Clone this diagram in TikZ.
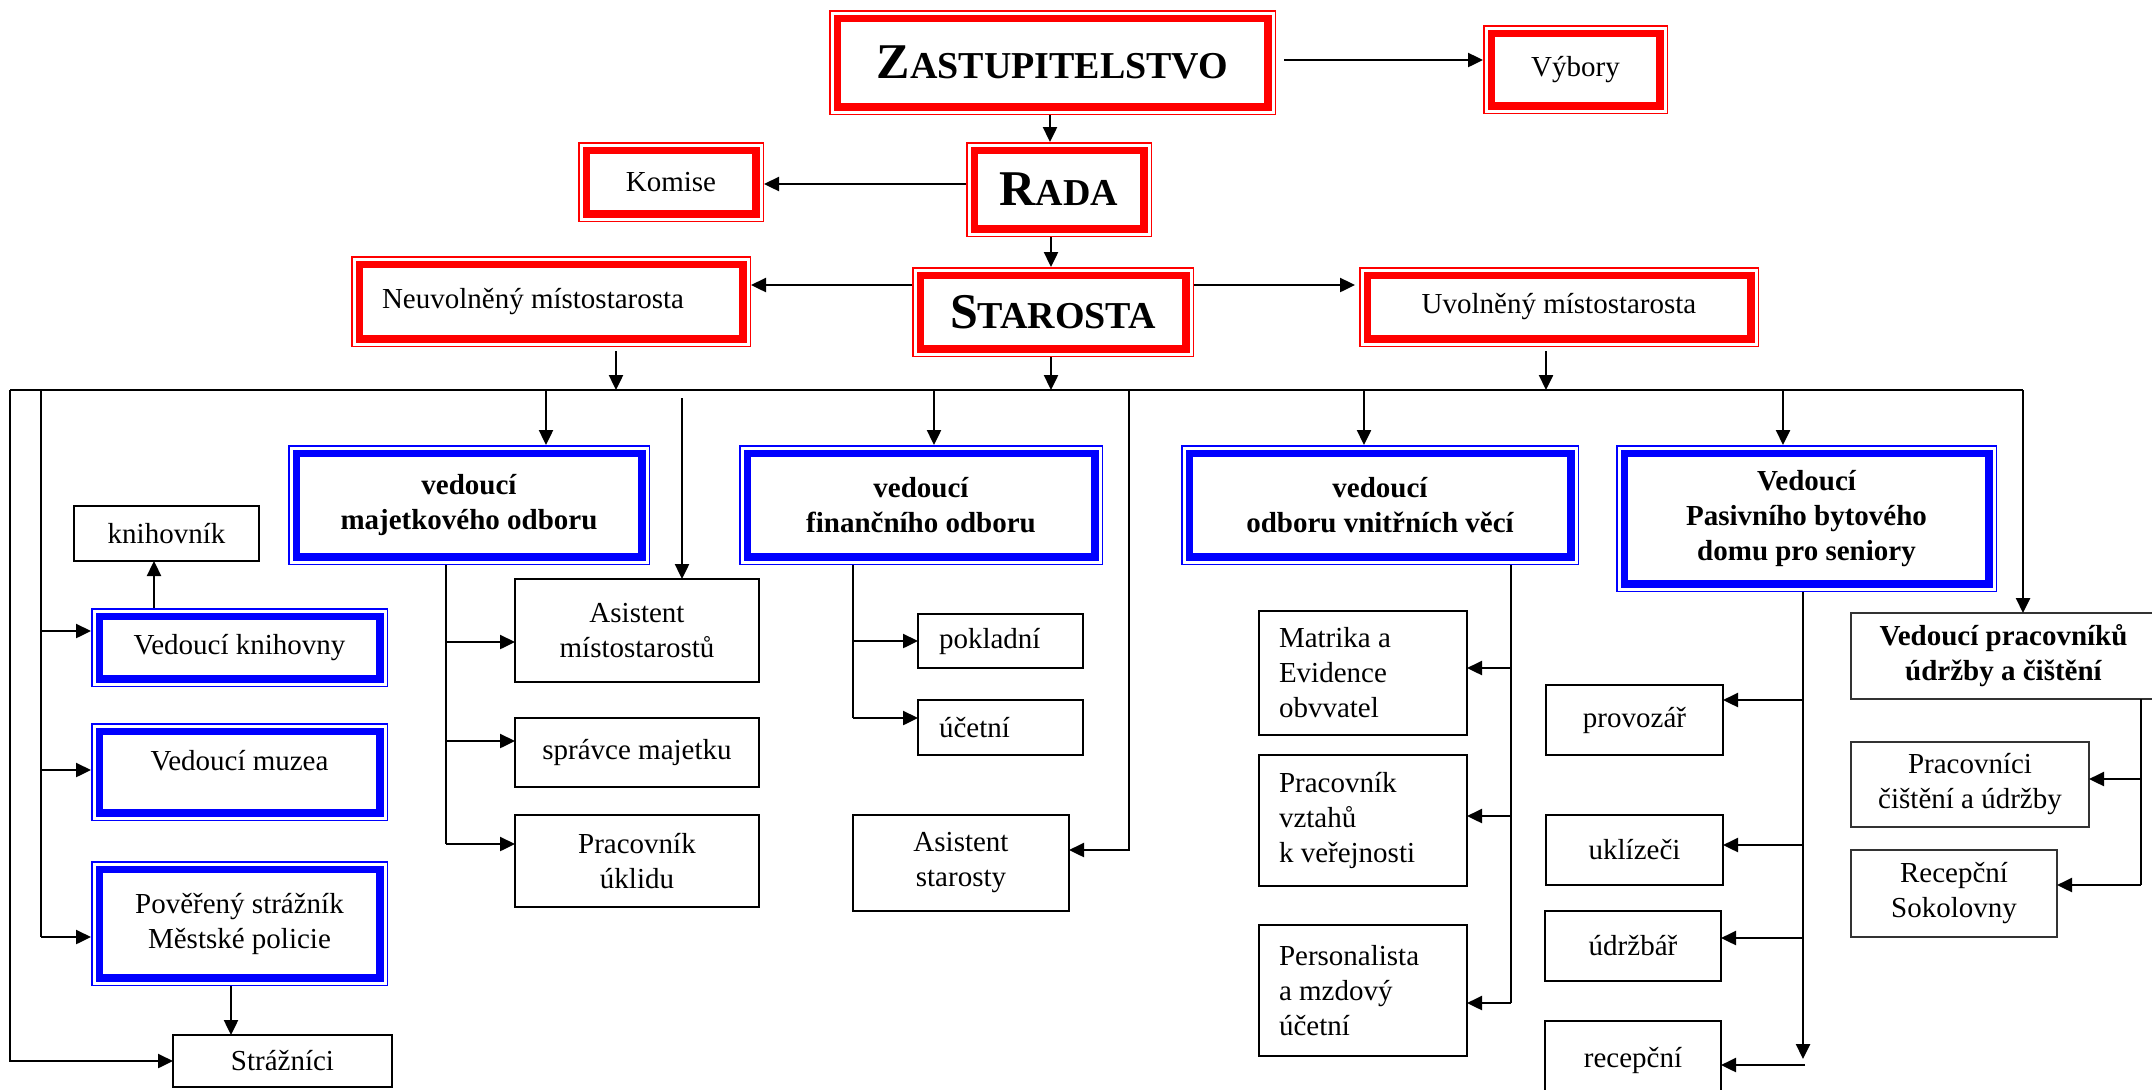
\documentclass[tikz,border=0pt]{standalone}
\usepackage{fontspec}
\setmainfont{Liberation Serif}
\usetikzlibrary{arrows.meta}
\definecolor{fr}{RGB}{255,0,0}
\definecolor{fb}{RGB}{0,0,255}
\newcommand\fsz{\fontsize{14.5pt}{17.5pt}\selectfont}
\newcommand\bigsc[2]{{\fontsize{25pt}{25pt}\selectfont #1}{\fontsize{19pt}{19pt}\selectfont #2}}
\newcommand\mkbox[7]{%
  \pgfmathsetmacro\bw{(#5-#3)*0.5}\pgfmathsetmacro\bh{(#6-#4)*0.5}%
  \node[#1, minimum width=\bw pt, minimum height=\bh pt] (#2) at ({(#3+#5)/2},{(#4+#6)/2}) {#7};}
\tikzset{
  dbl/.style={draw=none, inner sep=0pt, outer sep=0pt, align=center, font=\fsz},
  plain/.style={draw, line width=1pt, inner sep=0pt, outer sep=0pt, align=center, font=\fsz},
  thinbox/.style={draw=black!80, line width=0.6pt, inner sep=0pt, outer sep=0pt, align=center, font=\fsz},
  bf/.style={font=\fsz\bfseries},
  ln/.style={line width=1pt},
  arr/.style={line width=1.2pt, -{Triangle[length=7.5pt,width=7pt]}},
}
\begin{document}
\begin{tikzpicture}[x=0.5pt,y=-0.5pt]
\useasboundingbox (0,0) rectangle (2152,1089);
\fill[white] (0,0) rectangle (2152,1089);
\clip (0,0) rectangle (2152,1089);
% red boxes
\mkbox{dbl,bf}{zast}{829}{10}{1276}{115}{\bigsc{Z}{ASTUPITELSTVO}}
\mkbox{dbl}{vyb}{1483}{25}{1668}{114}{Výbory}
\mkbox{dbl,bf}{rada}{966}{142}{1152}{237}{\bigsc{R}{ADA}}
\mkbox{dbl}{komise}{578}{142}{764}{222}{Komise}
\mkbox{dbl,bf}{starosta}{912}{267}{1194}{357}{\bigsc{S}{TAROSTA}}
\mkbox{dbl,align=flush left,text width=169pt,inner xsep=15.5pt}{neuv}{351}{256}{751}{347}{Neuvolněný místostarosta}
\mkbox{dbl}{uvol}{1359}{267}{1759}{347}{Uvolněný místostarosta}
% blue boxes
\mkbox{dbl,bf}{maj}{288}{445}{650}{565}{vedoucí\\majetkového odboru}
\mkbox{dbl,bf}{fin}{739}{445}{1103}{565}{vedoucí\\finančního odboru}
\mkbox{dbl,bf}{vnit}{1181}{445}{1579}{565}{vedoucí\\odboru vnitřních věcí}
\mkbox{dbl,bf}{pas}{1616}{445}{1997}{592}{Vedoucí\\Pasivního bytového\\domu pro seniory}
\mkbox{dbl}{vknih}{91}{608}{388}{687}{Vedoucí knihovny}
\mkbox{dbl,text height=10pt,text depth=12pt}{vmuz}{91}{723}{388}{821}{Vedoucí muzea}
\mkbox{dbl}{pover}{91}{861}{388}{986}{Pověřený strážník\\Městské policie}
% plain boxes
\mkbox{plain}{knih}{74}{506}{259}{561}{knihovník}
\mkbox{plain}{asmist}{515}{579}{759}{682}{Asistent\\místostarostů}
\mkbox{plain}{spravce}{515}{718}{759}{787}{správce majetku}
\mkbox{plain}{uklid}{515}{815}{759}{907}{Pracovník\\úklidu}
\mkbox{plain}{straz}{173}{1035}{392}{1087}{Strážníci}
\mkbox{plain,align=flush left,text width=61.5pt,inner xsep=10.5pt}{pokl}{918}{614}{1083}{668}{pokladní}
\mkbox{plain,align=flush left,text width=61.5pt,inner xsep=10.5pt}{ucet}{918}{700}{1083}{755}{účetní}
\mkbox{plain}{asstar}{853}{815}{1069}{911}{Asistent\\starosty}
\mkbox{plain,align=flush left,text width=84pt,inner xsep=10pt}{matrika}{1259}{611}{1467}{735}{Matrika a\\Evidence\\obvvatel}
\mkbox{plain,align=flush left,text width=84pt,inner xsep=10pt}{vztahu}{1259}{755}{1467}{886}{Pracovník\\vztahů\\k veřejnosti}
\mkbox{plain,align=flush left,text width=84pt,inner xsep=10pt}{pers}{1259}{925}{1467}{1056}{Personalista\\a mzdový\\účetní}
\mkbox{plain}{provoz}{1546}{685}{1723}{755}{provozář}
\mkbox{plain}{ukliz}{1546}{815}{1723}{885}{uklízeči}
\mkbox{plain}{udrz}{1545}{911}{1721}{981}{údržbář}
\mkbox{plain}{recep}{1545}{1021}{1721}{1100}{recepční}
\mkbox{thinbox,bf}{vedprac}{1851}{613}{2156}{699}{Vedoucí pracovníků\\údržby a čištění}
\mkbox{thinbox}{pracc}{1851}{742}{2089}{827}{Pracovníci\\čištění a údržby}
\mkbox{thinbox}{recsok}{1851}{850}{2057}{937}{Recepční\\Sokolovny}
% double frames
\foreach \n/\c in {zast/fr,vyb/fr,rada/fr,komise/fr,starosta/fr,neuv/fr,uvol/fr,maj/fb,fin/fb,vnit/fb,pas/fb,vknih/fb,vmuz/fb,pover/fb}{
  \draw[\c, line width=0.75pt] ([shift={(0.75,0.75)}]\n.north west) rectangle ([shift={(-0.75,-0.75)}]\n.south east);
  \draw[\c, line width=3.75pt] ([shift={(8.25,8.25)}]\n.north west) rectangle ([shift={(-8.25,-8.25)}]\n.south east);
}
% top connectors
\draw[arr, shorten <=4pt] (zast.east |- 0,60) -- (vyb.west |- 0,60);
\draw[arr] (zast.south -| 1050,0) -- (rada.north -| 1050,0);
\draw[arr] (rada.west |- 0,184) -- (komise.east |- 0,184);
\draw[arr] (rada.south -| 1051,0) -- (starosta.north -| 1051,0);
\draw[arr] (starosta.west |- 0,285) -- (neuv.east |- 0,285);
\draw[arr, shorten >=2pt] (starosta.east |- 0,285) -- (uvol.west |- 0,285);
\coordinate (busL) at (10,390);
\coordinate (busR) at (2023,390);
\draw[arr] (starosta.south -| 1051,0) -- (1051,390);
\draw[arr, shorten <=2pt] (neuv.south -| 616,0) -- (616,390);
\draw[arr, shorten <=2pt] (uvol.south -| 1546,0) -- (1546,390);
% bus
\draw[ln] (busL) -- (busR);
\draw[arr] (busR) -- (vedprac.north -| busR);
\draw[arr] (busL) |- (straz.west);
\draw[ln] (41,390) -- (41,937);
\draw[arr] (41,631) -- (vknih.west |- 0,631);
\draw[arr] (41,770) -- (vmuz.west |- 0,770);
\draw[arr] (41,937) -- (pover.west |- 0,937);
\draw[arr] (vknih.north -| 154,0) -- (knih.south -| 154,0);
\draw[arr] (pover.south -| 231,0) -- (straz.north -| 231,0);
\draw[arr] (546,390) -- (maj.north -| 546,0);
\draw[arr] (682,398) -- (asmist.north -| 682,0);
\draw[ln] (maj.south -| 446,0) -- (446,844);
\draw[arr] (446,642) -- (asmist.west |- 0,642);
\draw[arr] (446,741) -- (spravce.west |- 0,741);
\draw[arr] (446,844) -- (uklid.west |- 0,844);
\draw[arr] (934,390) -- (fin.north -| 934,0);
\draw[ln] (fin.south -| 853,0) -- (853,718);
\draw[arr] (853,641) -- (pokl.west |- 0,641);
\draw[arr] (853,718) -- (ucet.west |- 0,718);
\draw[arr] (1129,390) |- (asstar.east |- 0,850);
\draw[arr] (1364,390) -- (vnit.north -| 1364,0);
\draw[ln] (vnit.south -| 1511,0) -- (1511,1003);
\draw[arr] (1511,668) -- (matrika.east |- 0,668);
\draw[arr] (1511,816) -- (vztahu.east |- 0,816);
\draw[arr] (1511,1003) -- (pers.east |- 0,1003);
\draw[arr] (1783,390) -- (pas.north -| 1783,0);
\draw[arr] (pas.south -| 1803,0) -- (1803,1059);
\draw[arr] (1803,700) -- (provoz.east |- 0,700);
\draw[arr] (1803,845) -- (ukliz.east |- 0,845);
\draw[arr] (1803,938) -- (udrz.east |- 0,938);
\draw[arr] (1805,1065) -- (recep.east |- 0,1065);
\draw[ln] (vedprac.south -| 2141,0) -- (2141,885);
\draw[arr] (2141,779) -- (pracc.east |- 0,779);
\draw[arr] (2141,885) -- (recsok.east |- 0,885);
\end{tikzpicture}
\end{document}
